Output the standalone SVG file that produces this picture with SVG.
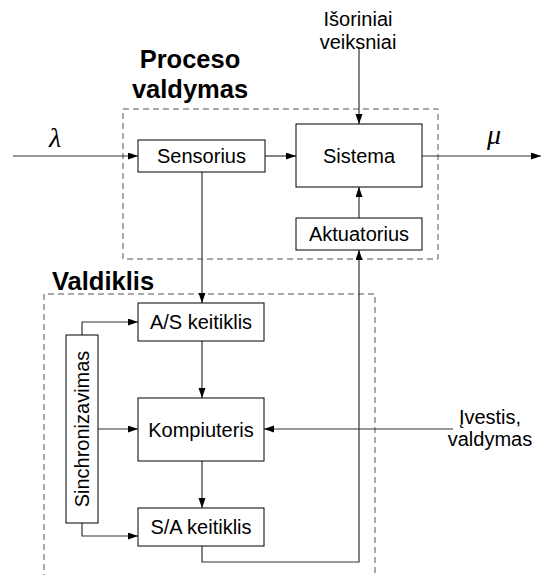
<svg xmlns="http://www.w3.org/2000/svg" width="542" height="575" viewBox="0 0 542 575">
<style>
.box{fill:#fff;stroke:#000;stroke-width:1}
.dash{fill:none;stroke:#555;stroke-width:1;stroke-dasharray:6,4}
.ln{fill:none;stroke:#333;stroke-width:1.2}
.lbl{font-family:"Liberation Sans",Arial,sans-serif;font-size:20px;fill:#000;text-anchor:middle}
.ttl{font-family:"Liberation Sans",Arial,sans-serif;font-size:25.5px;font-weight:bold;fill:#000}
.gr{font-family:"Liberation Serif","Times New Roman",serif;font-style:italic;font-size:28px;fill:#000;text-anchor:middle}
</style>
<defs>
<marker id="arr" markerUnits="userSpaceOnUse" markerWidth="11" markerHeight="8" refX="10" refY="3.5" orient="auto">
<path d="M0,0 L10,3.5 L0,7 z" fill="#000"/>
</marker>
</defs>
<rect width="542" height="575" fill="#fff"/>
<g id="proceso-valdymas">
<path class="dash" d="M123,109 H438 V259 H123 Z"/>
<text class="ttl" x="190" y="68" text-anchor="middle">Proceso</text>
<text class="ttl" x="190" y="98" text-anchor="middle">valdymas</text>
</g>
<g id="valdiklis">
<path class="dash" d="M44,580 V294 H375 V580"/>
<text class="ttl" x="52" y="290">Valdiklis</text>
</g>
<g id="connectors">
<path class="ln" d="M13,156 H138" marker-end="url(#arr)"/>
<path class="ln" d="M265,156 H296" marker-end="url(#arr)"/>
<path class="ln" d="M422,156 H541" marker-end="url(#arr)"/>
<path class="ln" d="M359,47 V124" marker-end="url(#arr)"/>
<path class="ln" d="M359,218 V187" marker-end="url(#arr)"/>
<path class="ln" d="M202,172 V303" marker-end="url(#arr)"/>
<path class="ln" d="M202,341 V398" marker-end="url(#arr)"/>
<path class="ln" d="M202,461 V508" marker-end="url(#arr)"/>
<path class="ln" d="M202,546 V562 H359 V250" marker-end="url(#arr)"/>
<path class="ln" d="M82,335 V322 H138" marker-end="url(#arr)"/>
<path class="ln" d="M98,429 H138" marker-end="url(#arr)"/>
<path class="ln" d="M82,523 V536 H138" marker-end="url(#arr)"/>
<path class="ln" d="M453,429 H264" marker-end="url(#arr)"/>
</g>
<g id="lambda"><text class="gr" x="55" y="147">λ</text></g>
<g id="mu"><text class="gr" x="494" y="144">μ</text></g>
<g id="isoriniai">
<text class="lbl" x="358" y="26">Išoriniai</text>
<text class="lbl" x="358" y="49">veiksniai</text>
</g>
<g id="ivestis">
<text class="lbl" x="490" y="424">Įvestis,</text>
<text class="lbl" x="490" y="446">valdymas</text>
</g>
<g id="sensorius">
<rect class="box" x="138" y="140" width="127" height="32"/>
<text class="lbl" x="201.5" y="163">Sensorius</text>
</g>
<g id="sistema">
<rect class="box" x="296" y="124" width="126" height="63"/>
<text class="lbl" x="359" y="163">Sistema</text>
</g>
<g id="aktuatorius">
<rect class="box" x="296" y="218" width="126" height="32"/>
<text class="lbl" x="359" y="241">Aktuatorius</text>
</g>
<g id="as-keitiklis">
<rect class="box" x="138" y="303" width="126" height="38"/>
<text class="lbl" x="201" y="329">A/S keitiklis</text>
</g>
<g id="kompiuteris">
<rect class="box" x="138" y="398" width="126" height="63"/>
<text class="lbl" x="201" y="437">Kompiuteris</text>
</g>
<g id="sa-keitiklis">
<rect class="box" x="138" y="508" width="126" height="38"/>
<text class="lbl" x="201" y="534">S/A keitiklis</text>
</g>
<g id="sinchronizavimas">
<rect class="box" x="66" y="335" width="32" height="188"/>
<text class="lbl" transform="translate(89,429) rotate(-90)" x="0" y="0">Sinchronizavimas</text>
</g>
</svg>
